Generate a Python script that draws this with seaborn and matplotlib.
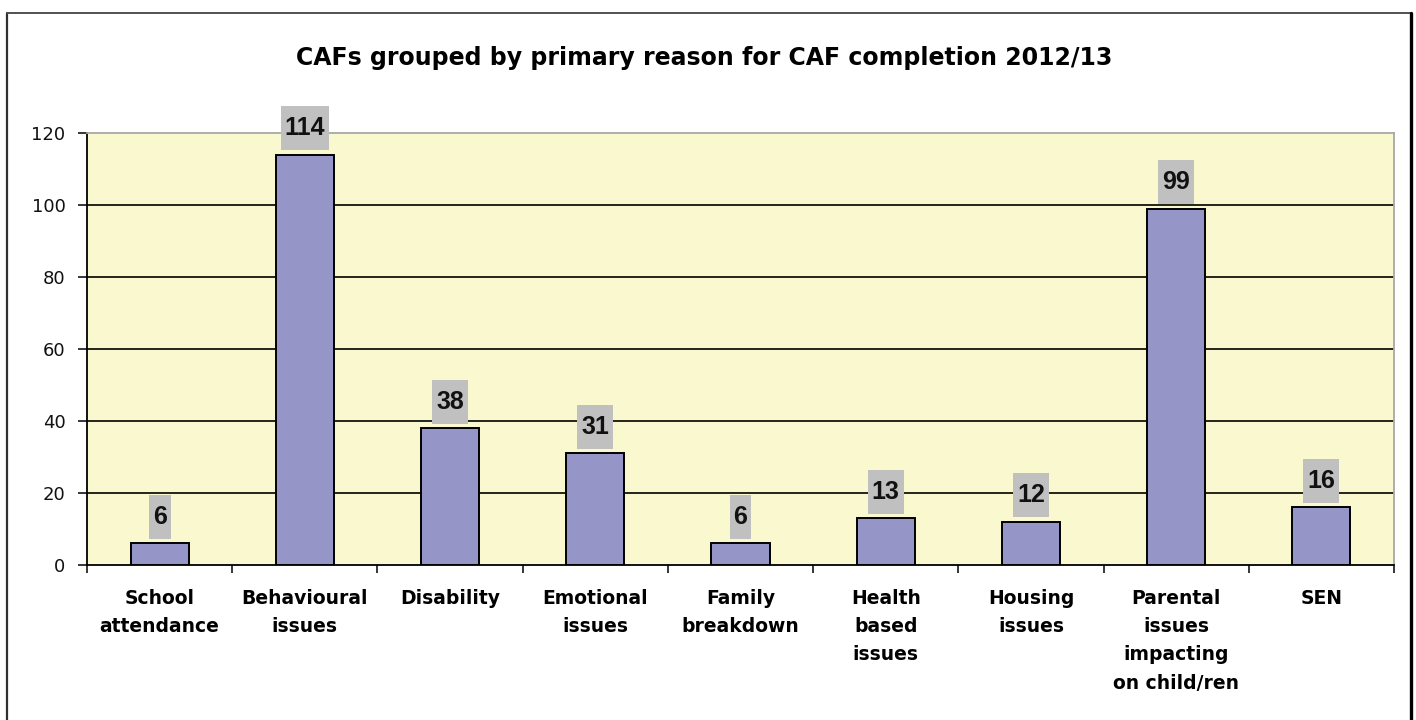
import matplotlib
matplotlib.use("Agg")
import matplotlib.pyplot as plt
import seaborn as sns
import pandas as pd
import numpy as np
from matplotlib.patches import Rectangle
from matplotlib.lines import Line2D

categories = [
    "School\nattendance",
    "Behavioural\nissues",
    "Disability",
    "Emotional\nissues",
    "Family\nbreakdown",
    "Health\nbased\nissues",
    "Housing\nissues",
    "Parental\nissues\nimpacting\non child/ren",
    "SEN",
]
counts = [6, 114, 38, 31, 6, 13, 12, 99, 16]
y_ticks = [0, 20, 40, 60, 80, 100, 120]

sns.set_style("white")
plt.rcParams["font.family"] = ["DejaVu Sans"]
plt.rcParams["text.color"] = "black"

df = pd.DataFrame({"reason": categories, "count": counts})

W, H = 1416, 720
fig = plt.figure(figsize=(W / 100, H / 100), dpi=100)

# chart frame (left, top, right edges)
fig.add_artist(Line2D([6.5 / W, 6.5 / W], [0, 1 - 13 / H], transform=fig.transFigure,
                      color="#303030", linewidth=1.6))
fig.add_artist(Line2D([6.5 / W, 1411 / W], [1 - 13 / H, 1 - 13 / H], transform=fig.transFigure,
                      color="#505050", linewidth=1.4))
fig.add_artist(Line2D([1411 / W, 1411 / W], [0, 1 - 13 / H], transform=fig.transFigure,
                      color="black", linewidth=2.4))

ax = fig.add_axes([87 / W, 1 - 565 / H, (1394 - 87) / W, (565 - 133) / H])
ax.set_facecolor("#FAF8CF")

sns.barplot(data=df, x="reason", y="count", color="#9595C8", saturation=1,
            width=0.4, edgecolor="black", linewidth=1.4, ax=ax, zorder=3)

ax.set_ylim(0, 120)
ax.set_xlim(-0.5, len(categories) - 0.5)
ax.set_yticks(y_ticks)
ax.set_yticklabels([str(t) for t in y_ticks], fontsize=13, color="#111111")
for t in y_ticks[1:-1]:
    ax.axhline(t, color="black", linewidth=1.2, zorder=1)

ax.set_xticks(range(len(categories)))
ax.set_xticklabels(categories, fontsize=13.5, fontweight="bold", linespacing=1.62, color="black")
ax.set_xticks(np.arange(-0.5, len(categories)), minor=True)
ax.tick_params(axis="x", which="major", length=0, pad=17, bottom=True)
ax.tick_params(axis="x", which="minor", length=6, width=1.1, color="black",
               direction="out", bottom=True)
ax.tick_params(axis="y", length=6.5, width=1.1, color="black", direction="out",
               left=True, pad=9)

ax.set_xlabel("")
ax.set_ylabel("")

for side in ["left", "bottom"]:
    ax.spines[side].set_color("black")
    ax.spines[side].set_linewidth(1.3)
for side in ["top", "right"]:
    ax.spines[side].set_color("#A8A8A8")
    ax.spines[side].set_linewidth(1.3)

# value labels on grey boxes above each bar
labels = []
for i, v in enumerate(counts):
    t = ax.annotate(str(v), xy=(i, v), xytext=(0, 19), textcoords="offset points",
                    ha="center", va="center", fontsize=18, fontweight="bold",
                    family=["Liberation Sans Narrow", "Liberation Sans", "DejaVu Sans"],
                    color="#111111", zorder=6, annotation_clip=False)
    labels.append(t)

fig.canvas.draw()
renderer = fig.canvas.get_renderer()
for t in labels:
    bb = t.get_window_extent(renderer)
    cx = (bb.x0 + bb.x1) / 2
    cy = (bb.y0 + bb.y1) / 2
    bw = bb.width + 8
    bh = 44
    rect = Rectangle((cx - bw / 2, cy - bh / 2), bw, bh, transform=None,
                     facecolor="#C0C0C0", edgecolor="none", zorder=5)
    rect.set_clip_on(False)
    ax.add_artist(rect)

fig.text(704.5 / W, 1 - 58 / H, "CAFs grouped by primary reason for CAF completion 2012/13",
         ha="center", va="center", fontsize=17, fontweight="bold", color="black")

fig.savefig("out.png", dpi=100)
